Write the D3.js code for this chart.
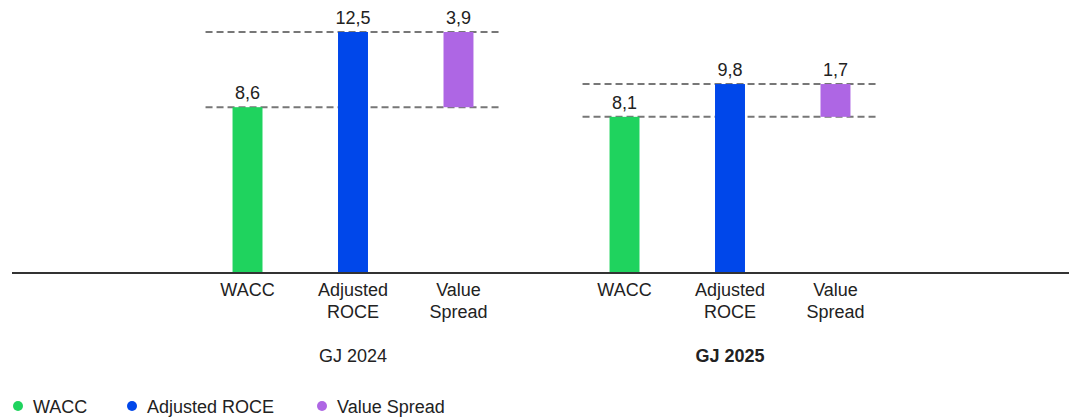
<!DOCTYPE html>
<html>
<head>
<meta charset="utf-8">
<script src="https://cdn.jsdelivr.net/npm/d3@7"></script>
<style>
  html, body { margin: 0; padding: 0; background: #fff; }
  svg { display: block; font-family: "Liberation Sans", Arial, sans-serif; }
</style>
</head>
<body>
<svg id="chart" width="1069" height="419"></svg>
<script>
// Data
const years = ["GJ 2024", "GJ 2025"];
const boldYear = "GJ 2025";
const categories = ["WACC", "Adjusted ROCE", "Value Spread"];
const categoryLabels = [["WACC"], ["Adjusted", "ROCE"], ["Value", "Spread"]];
const waccValues = [8.6, 8.1];
const roceValues = [12.5, 9.8];
const spreadValues = [3.9, 1.7];
const colors = ["#1fd35e", "#0047ea", "#ae66e4"];

const svg = d3.select("#chart");
const baseY = 273;
const fontSize = 18;

const y = d3.scaleLinear().domain([0, 12.5]).range([baseY, 32]);

const xGroup = d3.scaleBand().domain(years).range([164.5, 918.5]).padding(0);
const xCat = d3.scaleBand().domain(categories)
  .range([0, xGroup.bandwidth()])
  .paddingInner(0.716).paddingOuter(0.645);

const fmt = v => d3.format(".1f")(v).replace(".", ",");

years.forEach((yr, i) => {
  const g = svg.append("g").attr("transform", `translate(${xGroup(yr)},0)`);
  const w = xCat.bandwidth();
  const wacc = waccValues[i], roce = roceValues[i], spread = spreadValues[i];
  const bars = [
    { cat: categories[0], y0: 0, y1: wacc, label: wacc, color: colors[0] },
    { cat: categories[1], y0: 0, y1: roce, label: roce, color: colors[1] },
    { cat: categories[2], y0: wacc, y1: wacc + spread, label: spread, color: colors[2] }
  ];

  // Dashed reference lines at WACC and ROCE levels
  const lx0 = xCat(categories[0]) - 27;
  const lx1 = xCat(categories[2]) + w + 27;
  [wacc, roce].forEach(v => {
    g.append("line")
      .attr("x1", lx0).attr("x2", lx1)
      .attr("y1", y(v)).attr("y2", y(v))
      .attr("stroke", "#777").attr("stroke-width", 2)
      .attr("stroke-dasharray", "7,4");
  });

  g.selectAll("rect.bar").data(bars).enter().append("rect")
    .attr("class", "bar")
    .attr("x", d => xCat(d.cat))
    .attr("width", w)
    .attr("y", d => y(d.y1))
    .attr("height", d => y(d.y0) - y(d.y1))
    .attr("fill", d => d.color);

  g.selectAll("text.val").data(bars).enter().append("text")
    .attr("class", "val")
    .attr("x", d => xCat(d.cat) + w / 2)
    .attr("y", d => y(d.y1) - 8)
    .attr("text-anchor", "middle")
    .attr("font-size", fontSize)
    .attr("fill", "#222")
    .text(d => fmt(d.label));

  // Category labels
  categories.forEach((c, j) => {
    const t = g.append("text")
      .attr("x", xCat(c) + w / 2)
      .attr("y", 296)
      .attr("text-anchor", "middle")
      .attr("font-size", fontSize)
      .attr("fill", "#222");
    categoryLabels[j].forEach((line, k) => {
      t.append("tspan").attr("x", xCat(c) + w / 2).attr("dy", k === 0 ? 0 : 22).text(line);
    });
  });

  // Year label
  g.append("text")
    .attr("x", xGroup.bandwidth() / 2)
    .attr("y", 362)
    .attr("text-anchor", "middle")
    .attr("font-size", fontSize)
    .attr("font-weight", yr === boldYear ? "bold" : "normal")
    .attr("fill", "#222")
    .text(yr);
});

// Baseline
svg.append("line")
  .attr("x1", 12).attr("x2", 1069)
  .attr("y1", baseY).attr("y2", baseY)
  .attr("stroke", "#333").attr("stroke-width", 2);

// Legend
const legendX = [18, 132, 322];
const legend = svg.append("g");
categories.forEach((c, j) => {
  legend.append("circle").attr("cx", legendX[j]).attr("cy", 406).attr("r", 5).attr("fill", colors[j]);
  legend.append("text").attr("x", legendX[j] + 15).attr("y", 412.5)
    .attr("font-size", fontSize).attr("fill", "#222").text(c);
});
</script>
</body>
</html>
